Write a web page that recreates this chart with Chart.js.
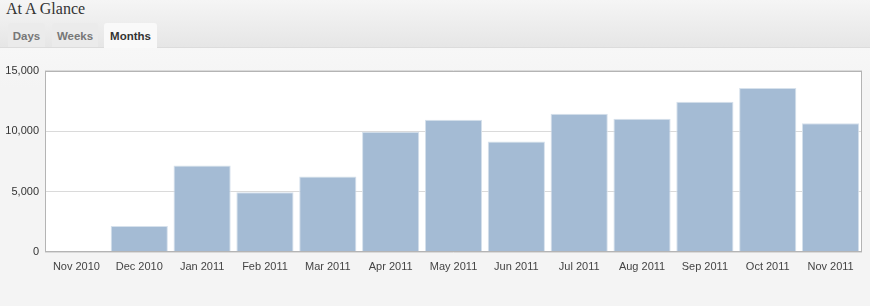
<!DOCTYPE html>
<html>
<head>
<meta charset="utf-8">
<script src="https://cdn.jsdelivr.net/npm/chart.js@4/dist/chart.umd.min.js"></script>
<style>
  html,body{margin:0;padding:0;}
  body{width:870px;height:306px;background:#f4f4f4;position:relative;overflow:hidden;font-family:"Liberation Sans",Arial,sans-serif;}
  .head{position:absolute;left:0;top:0;width:870px;height:47px;border-bottom:1px solid #dcdcdc;
    background:linear-gradient(#f5f5f5,#e6e6e6);}
  .head h3{position:absolute;left:6px;top:0px;margin:0;font:16px/18px "Liberation Serif","DejaVu Serif",serif;color:#333;}
  .tab{position:absolute;top:23px;height:24px;line-height:26px;font-size:11.5px;font-weight:bold;color:#777;
    background:#ebebeb;border-radius:3px 3px 0 0;text-align:center;}
  .tab.on{background:#f9f9f9;color:#333;height:25px;}
  .body{position:absolute;left:0;top:48px;width:870px;height:258px;background:linear-gradient(#f7f7f7,#f4f4f4 40px);}
  #wrap{position:absolute;left:0;top:58px;width:870px;height:232px;}
</style>
</head>
<body>
<div class="head">
  <h3>At A Glance</h3>
  <div class="tab" style="left:8px;width:37px">Days</div>
  <div class="tab" style="left:52px;width:46px">Weeks</div>
  <div class="tab on" style="left:104px;width:53px">Months</div>
</div>
<div class="body"></div>
<div id="wrap"><canvas id="c"></canvas></div>
<script>
/* Months tab — page views per month */
var MONTHS = ['Nov 2010','Dec 2010','Jan 2011','Feb 2011','Mar 2011','Apr 2011','May 2011',
              'Jun 2011','Jul 2011','Aug 2011','Sep 2011','Oct 2011','Nov 2011'];
var VIEWS = [80, 2150, 7160, 4950, 6250, 9950, 10940, 9140, 11440, 11020, 12420, 13560, 10640];
var Y_TICKS = [0, 5000, 10000, 15000];

var C_FILL = '#a4bbd4', C_EDGE = '#d6e1ec', C_GRID = '#dadada', C_FRAME = '#b4b4b4';

// frame round the plot area (top + right sides too)
var frame = {
  id:'frame',
  afterDatasetsDraw:function(ch){
    var a = ch.chartArea, ctx = ch.ctx;
    ctx.save();
    ctx.strokeStyle = C_FRAME; ctx.lineWidth = 1;
    ctx.strokeRect(Math.round(a.left)+0.5, Math.round(a.top)+0.5,
      Math.round(a.right-a.left)-1, Math.round(a.bottom-a.top)-1);
    ctx.restore();
  }
};
var plotBg = {
  id:'plotBg',
  beforeDraw:function(ch){
    var a = ch.chartArea, ctx = ch.ctx;
    ctx.save(); ctx.fillStyle = '#fff';
    ctx.fillRect(a.left, a.top, a.right-a.left, a.bottom-a.top);
    ctx.restore();
  }
};

new Chart(document.getElementById('c'), {
  type:'bar',
  data:{ labels:MONTHS,
    datasets:[{ data:VIEWS, backgroundColor:C_FILL, borderColor:C_EDGE, borderWidth:1,
      barPercentage:0.91, categoryPercentage:1 }] },
  options:{
    responsive:true, maintainAspectRatio:false, animation:false,
    layout:{ padding:{ top:10, right:8, left:0, bottom:0 } },
    plugins:{ legend:{display:false}, tooltip:{enabled:false} },
    scales:{
      x:{ grid:{display:false, drawTicks:false}, border:{display:false},
        ticks:{ color:'#444', padding:8, font:{family:'"Liberation Sans", Arial, sans-serif', size:11} },
        afterFit:function(s){ s.height = 38; } },
      y:{ min:0, max:15000,
        afterBuildTicks:function(s){ s.ticks = Y_TICKS.map(function(v){ return {value:v}; }); },
        grid:{ color:C_GRID, drawTicks:false }, border:{display:false},
        ticks:{ color:'#333', padding:6, font:{family:'"Liberation Sans", Arial, sans-serif', size:11},
          callback:function(v){ return Number(v).toLocaleString('en-US'); } },
        afterFit:function(s){ s.width = 45; } }
    }
  },
  plugins:[plotBg, frame]
});
</script>
</body>
</html>
